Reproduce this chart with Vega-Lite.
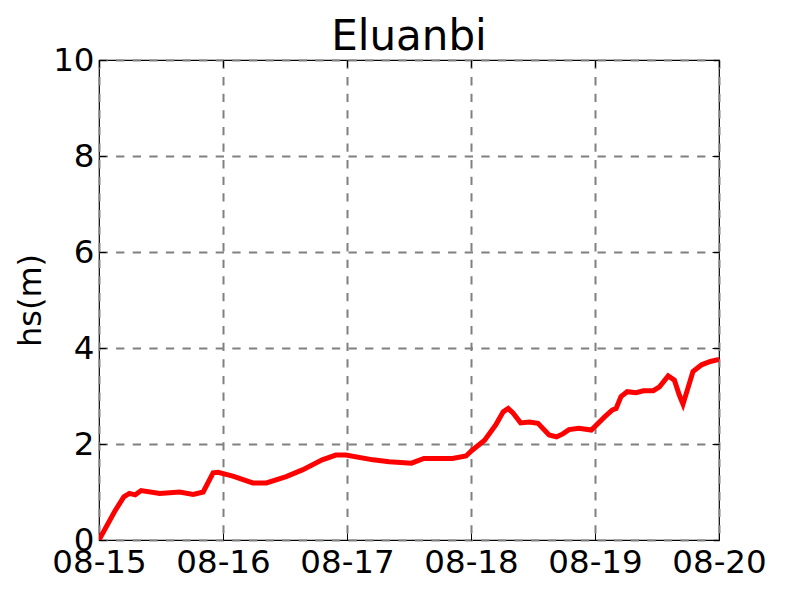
{
  "$schema": "https://vega.github.io/schema/vega-lite/v6.json",
  "autosize": {"type": "none"},
  "padding": {"left": 99, "top": 60, "right": 81, "bottom": 60},
  "width": 620,
  "height": 480,
  "background": "white",
  "title": {"text": "Eluanbi", "font": "DejaVu Sans", "fontSize": 42, "fontWeight": "normal", "color": "black", "offset": -15},
  "config": {
    "view": {"stroke": "black", "strokeWidth": 1.2},
    "axis": {
      "labelFont": "DejaVu Sans", "labelFontSize": 32.5, "labelColor": "black",
      "titleFont": "DejaVu Sans", "titleFontSize": 32, "titleFontWeight": "normal", "titleColor": "black",
      "domain": false, "tickColor": "black", "tickWidth": 1, "tickSize": -7,
      "gridColor": "#808080", "gridDash": [8.3, 8.3], "gridWidth": 2, "gridOpacity": 1
    }
  },
  "data": {"values": [
    {"t": "2015-08-15T00:00", "hs": 0.0},
    {"t": "2015-08-15T03:00", "hs": 0.59},
    {"t": "2015-08-15T04:48", "hs": 0.9},
    {"t": "2015-08-15T05:53", "hs": 0.97},
    {"t": "2015-08-15T07:00", "hs": 0.94},
    {"t": "2015-08-15T08:10", "hs": 1.03},
    {"t": "2015-08-15T11:45", "hs": 0.97},
    {"t": "2015-08-15T15:36", "hs": 1.0},
    {"t": "2015-08-15T18:14", "hs": 0.95},
    {"t": "2015-08-15T20:10", "hs": 1.0},
    {"t": "2015-08-15T22:05", "hs": 1.4},
    {"t": "2015-08-15T23:02", "hs": 1.41},
    {"t": "2015-08-16T01:55", "hs": 1.33},
    {"t": "2015-08-16T05:46", "hs": 1.19},
    {"t": "2015-08-16T08:24", "hs": 1.19},
    {"t": "2015-08-16T12:14", "hs": 1.32},
    {"t": "2015-08-16T15:22", "hs": 1.46},
    {"t": "2015-08-16T19:12", "hs": 1.67},
    {"t": "2015-08-16T21:50", "hs": 1.77},
    {"t": "2015-08-16T23:46", "hs": 1.77},
    {"t": "2015-08-17T05:02", "hs": 1.67},
    {"t": "2015-08-17T08:10", "hs": 1.63},
    {"t": "2015-08-17T12:29", "hs": 1.6},
    {"t": "2015-08-17T14:53", "hs": 1.7},
    {"t": "2015-08-17T20:24", "hs": 1.7},
    {"t": "2015-08-17T23:02", "hs": 1.75},
    {"t": "2015-08-18T00:14", "hs": 1.87},
    {"t": "2015-08-18T02:38", "hs": 2.08},
    {"t": "2015-08-18T04:19", "hs": 2.33},
    {"t": "2015-08-18T04:48", "hs": 2.4},
    {"t": "2015-08-18T06:14", "hs": 2.67},
    {"t": "2015-08-18T07:12", "hs": 2.74},
    {"t": "2015-08-18T08:10", "hs": 2.64},
    {"t": "2015-08-18T09:36", "hs": 2.44},
    {"t": "2015-08-18T11:17", "hs": 2.46},
    {"t": "2015-08-18T12:58", "hs": 2.43},
    {"t": "2015-08-18T15:07", "hs": 2.19},
    {"t": "2015-08-18T16:34", "hs": 2.15},
    {"t": "2015-08-18T17:46", "hs": 2.21},
    {"t": "2015-08-18T18:58", "hs": 2.3},
    {"t": "2015-08-18T20:53", "hs": 2.33},
    {"t": "2015-08-18T23:17", "hs": 2.29},
    {"t": "2015-08-19T01:55", "hs": 2.57},
    {"t": "2015-08-19T03:22", "hs": 2.71},
    {"t": "2015-08-19T04:05", "hs": 2.74},
    {"t": "2015-08-19T05:02", "hs": 2.99},
    {"t": "2015-08-19T06:14", "hs": 3.09},
    {"t": "2015-08-19T07:55", "hs": 3.07},
    {"t": "2015-08-19T09:22", "hs": 3.11},
    {"t": "2015-08-19T11:17", "hs": 3.11},
    {"t": "2015-08-19T12:29", "hs": 3.19},
    {"t": "2015-08-19T14:10", "hs": 3.42},
    {"t": "2015-08-19T15:22", "hs": 3.33},
    {"t": "2015-08-19T16:19", "hs": 3.02},
    {"t": "2015-08-19T17:02", "hs": 2.83},
    {"t": "2015-08-19T18:58", "hs": 3.51},
    {"t": "2015-08-19T20:38", "hs": 3.65},
    {"t": "2015-08-19T22:19", "hs": 3.72},
    {"t": "2015-08-20T00:00", "hs": 3.76}
  ]},
  "resolve": {"axis": {"x": "independent", "y": "independent"}},
  "layer": [
    {
      "mark": {"type": "line", "color": "red", "strokeWidth": 5, "clip": true},
      "encoding": {
        "x": {"field": "t", "type": "temporal",
          "scale": {"domain": [{"year": 2015, "month": 8, "date": 15}, {"year": 2015, "month": 8, "date": 20}]},
          "axis": {"orient": "bottom", "title": null, "format": "%m-%d", "tickCount": {"interval": "day", "step": 1}, "labelPadding": 13, "labelFlush": false, "labelOverlap": false}},
        "y": {"field": "hs", "type": "quantitative",
          "scale": {"domain": [0, 10], "nice": false},
          "axis": {"orient": "left", "title": "hs(m)", "values": [0, 2, 4, 6, 8, 10], "labelPadding": 12, "titlePadding": 5, "labelFlush": false, "labelOverlap": false}}
      }
    },
    {
      "mark": {"type": "line", "opacity": 0},
      "encoding": {
        "x": {"field": "t", "type": "temporal",
          "scale": {"domain": [{"year": 2015, "month": 8, "date": 15}, {"year": 2015, "month": 8, "date": 20}]},
          "axis": {"orient": "top", "title": null, "labels": false, "grid": false, "tickCount": {"interval": "day", "step": 1}}},
        "y": {"field": "hs", "type": "quantitative",
          "scale": {"domain": [0, 10], "nice": false},
          "axis": {"orient": "right", "title": null, "labels": false, "grid": false, "values": [0, 2, 4, 6, 8, 10]}}
      }
    }
  ]
}
